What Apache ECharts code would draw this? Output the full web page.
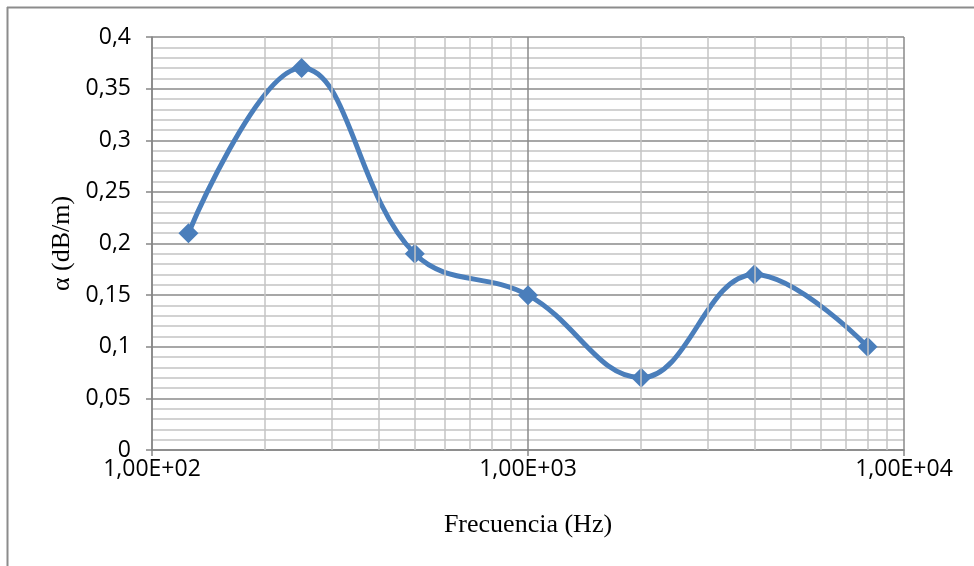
<!DOCTYPE html>
<html>
<head>
<meta charset="utf-8">
<script src="https://cdn.jsdelivr.net/npm/echarts@6/dist/echarts.min.js"></script>
<style>html,body{margin:0;padding:0;background:#fff}#c{width:974px;height:566px}</style>
</head>
<body>
<div id="c"></div>
<script>
// Data
const freqs = [125, 250, 500, 1000, 2000, 4000, 8000];
const alpha = [0.21, 0.37, 0.19, 0.15, 0.07, 0.17, 0.10];
const minorFreqs = [200, 300, 400, 500, 600, 700, 800, 900, 2000, 3000, 4000, 5000, 6000, 7000, 8000, 9000];
const xTickValues = [100, 1000, 10000];
const xTickLabels = ['1,00E+02', '1,00E+03', '1,00E+04'];
const xTitle = 'Frecuencia (Hz)';
const yTitle = 'α (dB/m)';

const chart = echarts.init(document.getElementById('c'), null, {renderer: 'canvas'});
const sans = '"Open Sans", "Noto Sans", sans-serif';
const serif = '"Liberation Serif", "DejaVu Serif", serif';

chart.setOption({
  animation: false,
  backgroundColor: '#fff',
  grid: {left: 152, right: 70, top: 37, bottom: 116, containLabel: false},
  graphic: [
    {type: 'line', shape: {x1: 7, y1: 7.5, x2: 974, y2: 7.5}, style: {stroke: '#8c8c8c', lineWidth: 2}},
    {type: 'line', shape: {x1: 7.5, y1: 7, x2: 7.5, y2: 566}, style: {stroke: '#8c8c8c', lineWidth: 2}}
  ],
  xAxis: {
    type: 'log', logBase: 10, min: 100, max: 10000,
    name: xTitle, nameLocation: 'middle', nameGap: 62,
    nameTextStyle: {fontFamily: serif, fontSize: 26, color: '#000'},
    axisLine: {show: true, onZero: false, lineStyle: {color: '#868686', width: 1.5}},
    axisTick: {show: true, inside: false, length: 6, lineStyle: {color: '#868686', width: 1.5}},
    axisLabel: {
      color: '#000', fontFamily: sans, fontSize: 23, margin: 8,
      formatter: v => { const i = xTickValues.indexOf(Math.round(v)); return i >= 0 ? xTickLabels[i] : ''; }
    },
    splitLine: {show: true, lineStyle: {color: '#8a8a8a', width: 1.5}}
  },
  yAxis: {
    type: 'value', min: 0, max: 0.4, interval: 0.05,
    name: yTitle, nameLocation: 'middle', nameGap: 77, nameRotate: 90,
    nameTextStyle: {fontFamily: serif, fontSize: 26, color: '#000'},
    axisLine: {show: true, lineStyle: {color: '#868686', width: 1.5}},
    axisTick: {show: true, inside: false, length: 6, lineStyle: {color: '#868686', width: 1.5}},
    axisLabel: {
      color: '#000', fontFamily: sans, fontSize: 23, margin: 21,
      formatter: v => String(Math.round(v * 100) / 100).replace('.', ',')
    },
    splitLine: {show: true, lineStyle: {color: '#8a8a8a', width: 1.5}},
    minorTick: {show: false, splitNumber: 5},
    minorSplitLine: {show: true, lineStyle: {color: '#c4c4c4', width: 1.5}}
  },
  series: [
    {
      type: 'line', data: [], z: 1, silent: true,
      markLine: {
        silent: true, symbol: 'none', animation: false,
        label: {show: false},
        lineStyle: {color: '#c4c4c4', width: 1.5, type: 'solid'},
        data: minorFreqs.map(f => ({xAxis: f}))
      }
    },
    {
      type: 'line', z: 3,
      data: freqs.map((f, i) => [f, alpha[i]]),
      smooth: 0.4,
      symbol: 'diamond', symbolSize: 20,
      lineStyle: {color: '#4a7ebb', width: 5},
      itemStyle: {color: '#4a7ebb'}
    }
  ]
});
</script>
</body>
</html>
